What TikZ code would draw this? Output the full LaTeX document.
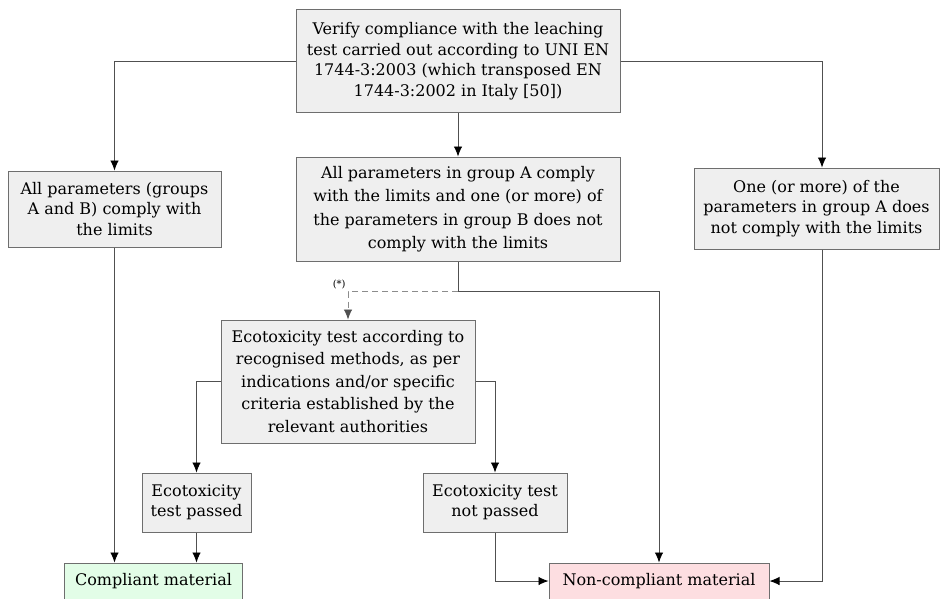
\documentclass[tikz,border=0pt]{standalone}
\usepackage{fontspec}
\setmainfont{DejaVu Serif}
\usepackage{xcolor}
\usepackage{tikz}
\usetikzlibrary{arrows.meta, positioning, calc}
\definecolor{boxgray}{HTML}{EFEFEF}
\definecolor{boxline}{HTML}{6E6E6E}
\definecolor{linegray}{HTML}{505050}
\definecolor{dashgray}{HTML}{8C8C8C}
\definecolor{okgreen}{HTML}{E2FDE7}
\definecolor{nokred}{HTML}{FDDEE1}

\begin{document}
\begin{tikzpicture}[
    x=1pt, y=-1pt,
    nd/.style={draw=boxline, fill=#1, line width=1pt, align=center, inner sep=2pt,
               font=\fontsize{16}{20.5}\selectfont},
    nd/.default=boxgray,
    link/.style={-{Latex[length=10pt, width=8.5pt, color=black]}, linegray, line width=0.9pt},
]
    \clip (0,0) rectangle (940,598);

    \node[nd, minimum width=324pt, minimum height=103pt] (verify) at (458, 61)
        {Verify compliance with the leaching\\ test carried out according to UNI EN\\
         1744-3:2003 (which transposed EN\\ 1744-3:2002 in Italy [50])};

    \node[nd, minimum width=213pt, minimum height=76pt] (allok) at (114.5, 209)
        {All parameters (groups\\ A and B) comply with\\ the limits};
    \node[nd, minimum width=324pt, minimum height=104pt,
          font=\fontsize{16}{23.5}\selectfont] (grpB) at (458, 209)
        {All parameters in group A comply\\ with the limits and one (or more) of\\
         the parameters in group B does not\\ comply with the limits};
    \node[nd, minimum width=245pt, minimum height=81pt] (grpA) at (816.5, 208.5)
        {One (or more) of the\\ parameters in group A does\\ not comply with the limits};

    \node[nd, minimum width=254pt, minimum height=123pt,
          font=\fontsize{16}{22.5}\selectfont] (ecotest) at (348, 381.5)
        {Ecotoxicity test according to\\ recognised methods, as per\\
         indications and/or specific\\ criteria established by the\\ relevant authorities};

    \node[nd, minimum width=109pt, minimum height=59pt] (passed) at (196.5, 502.5)
        {Ecotoxicity\\ test passed};
    \node[nd, minimum width=144pt, minimum height=59pt] (notpassed) at (495, 502.5)
        {Ecotoxicity test\\ not passed};

    \node[nd=okgreen, minimum width=178pt, minimum height=36pt] (compliant) at (153.5, 581)
        {Compliant material};
    \node[nd=nokred, minimum width=220pt, minimum height=36pt] (noncomp) at (659, 581)
        {Non-compliant material};

    % Outcomes of the leaching test
    \draw[link] (verify.west) -| (allok.north);
    \draw[link] (verify.south) -- (grpB.north);
    \draw[link] (verify.east) -| ([xshift=5.5pt]grpA.north);

    % Group B branch
    \coordinate (split) at ($(grpB.south)+(0,30)$);
    \draw[linegray, line width=0.9pt] (grpB.south) -- (split);
    \draw[-{Latex[length=10pt, width=8.5pt, color=linegray]}, dashgray, line width=0.9pt, dash pattern=on 6pt off 4pt]
        (split) -| node[pos=0.5, above left, font=\fontsize{10}{12}\selectfont, text=black, inner sep=2pt] {(*)} (ecotest.north);
    \draw[link] (split) -| (noncomp.north);

    % Ecotoxicity results
    \draw[link] (ecotest.west) -| (passed.north);
    \draw[link] (ecotest.east) -| (notpassed.north);

    % Final classification
    \draw[link] (allok.south) -- (allok.south |- compliant.north);
    \draw[link] (passed.south) -- (passed.south |- compliant.north);
    \draw[link] (notpassed.south) |- (noncomp.west);
    \draw[link] ([xshift=5.5pt]grpA.south) |- (noncomp.east);
\end{tikzpicture}
\end{document}
